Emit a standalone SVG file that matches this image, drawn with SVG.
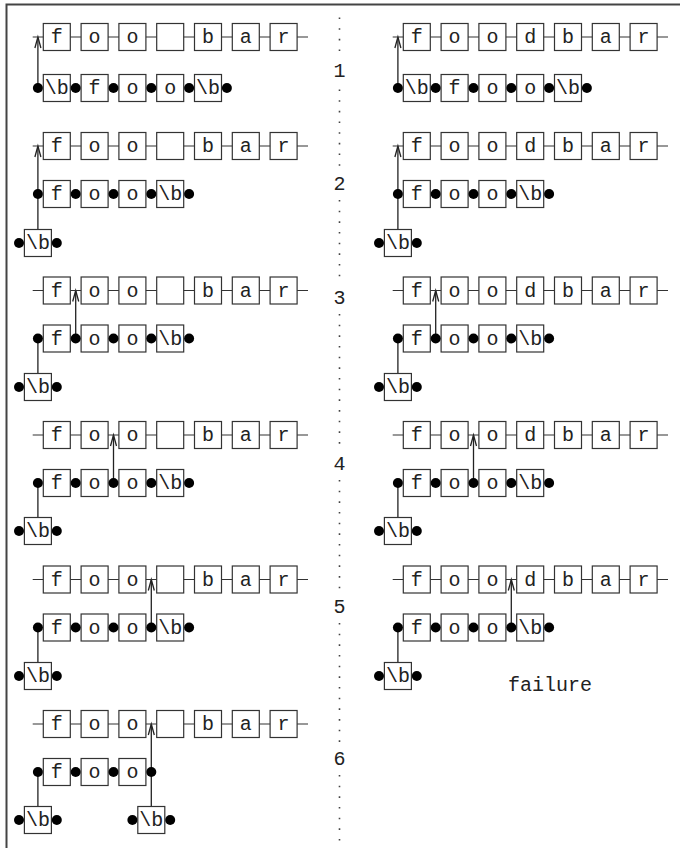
<svg xmlns="http://www.w3.org/2000/svg" width="680" height="848" viewBox="0 0 680 848">
<style>
.bx{fill:#fff;stroke:#333;stroke-width:1.2}
.ln{stroke:#333;stroke-width:1.2;fill:none}
.t{font-family:"Liberation Mono","DejaVu Sans Mono",monospace;font-size:20px;fill:#222;text-anchor:middle}
.lb{font-family:"Liberation Mono","DejaVu Sans Mono",monospace;font-size:20px;fill:#222;text-anchor:middle}
.dt{fill:#000}
.dl{stroke:#444;stroke-width:1.6;stroke-dasharray:1.6 9.07;fill:none}
.cn{stroke:#222;stroke-width:1.3;fill:none}
</style>
<defs>
<marker id="ah" viewBox="-12 -4 13 8" refX="0" refY="0" markerWidth="13" markerHeight="8" markerUnits="userSpaceOnUse" orient="auto" overflow="visible">
<path d="M-11,-3 L0,0 L-11,3" fill="none" stroke="#222" stroke-width="1.3"/>
</marker>
</defs>
<rect width="680" height="848" fill="#fff"/>
<path d="M6.5,848 V4.5 H680" fill="none" stroke="#444" stroke-width="2"/>
<g id="divider">
<line class="dl" x1="339.5" y1="17.5" x2="339.5" y2="58"/>
<line class="dl" x1="339.5" y1="89.5" x2="339.5" y2="170"/>
<line class="dl" x1="339.5" y1="200" x2="339.5" y2="284"/>
<line class="dl" x1="339.5" y1="314" x2="339.5" y2="450"/>
<line class="dl" x1="339.5" y1="480" x2="339.5" y2="593"/>
<line class="dl" x1="339.5" y1="623" x2="339.5" y2="745"/>
<line class="dl" x1="339.5" y1="775" x2="339.5" y2="846"/>
<text class="lb" x="339.5" y="77">1</text>
<text class="lb" x="339.5" y="190">2</text>
<text class="lb" x="339.5" y="304">3</text>
<text class="lb" x="339.5" y="470">4</text>
<text class="lb" x="339.5" y="613">5</text>
<text class="lb" x="339.5" y="765">6</text>
</g>

<g id="connectors">
<line class="cn" x1="37.9" y1="88" x2="37.9" y2="37" marker-end="url(#ah)"/>
<line class="cn" x1="397.9" y1="88" x2="397.9" y2="37" marker-end="url(#ah)"/>
<line class="cn" x1="37.9" y1="229.5" x2="37.9" y2="146" marker-end="url(#ah)"/>
<line class="cn" x1="397.9" y1="229.5" x2="397.9" y2="146" marker-end="url(#ah)"/>
<line class="cn" x1="37.9" y1="373.5" x2="37.9" y2="338.5"/>
<line class="cn" x1="75.7" y1="338.5" x2="75.7" y2="290.5" marker-end="url(#ah)"/>
<line class="cn" x1="397.9" y1="373.5" x2="397.9" y2="338.5"/>
<line class="cn" x1="435.7" y1="338.5" x2="435.7" y2="290.5" marker-end="url(#ah)"/>
<line class="cn" x1="37.9" y1="517.5" x2="37.9" y2="483"/>
<line class="cn" x1="113.5" y1="483" x2="113.5" y2="435" marker-end="url(#ah)"/>
<line class="cn" x1="397.9" y1="517.5" x2="397.9" y2="483"/>
<line class="cn" x1="473.5" y1="483" x2="473.5" y2="435" marker-end="url(#ah)"/>
<line class="cn" x1="37.9" y1="662.5" x2="37.9" y2="627.5"/>
<line class="cn" x1="151.3" y1="627.5" x2="151.3" y2="579.5" marker-end="url(#ah)"/>
<line class="cn" x1="397.9" y1="662.5" x2="397.9" y2="627.5"/>
<line class="cn" x1="511.3" y1="627.5" x2="511.3" y2="579.5" marker-end="url(#ah)"/>
<line class="cn" x1="37.9" y1="806.5" x2="37.9" y2="772"/>
<line class="cn" x1="151.3" y1="806.5" x2="151.3" y2="724" marker-end="url(#ah)"/>
</g>

<!-- Row 1 -->
<g id="r1-text-left" transform="translate(0,37)">
<line class="ln" x1="32.7" y1="0" x2="308" y2="0"/>
<rect class="bx" x="43.3" y="-13.5" width="27" height="27"/><text class="t" x="56.8" y="6">f</text>
<rect class="bx" x="81.1" y="-13.5" width="27" height="27"/><text class="t" x="94.6" y="6">o</text>
<rect class="bx" x="118.9" y="-13.5" width="27" height="27"/><text class="t" x="132.4" y="6">o</text>
<rect class="bx" x="156.7" y="-13.5" width="27" height="27"/>
<rect class="bx" x="194.5" y="-13.5" width="27" height="27"/><text class="t" x="208" y="6">b</text>
<rect class="bx" x="232.3" y="-13.5" width="27" height="27"/><text class="t" x="245.8" y="6">a</text>
<rect class="bx" x="270.1" y="-13.5" width="27" height="27"/><text class="t" x="283.6" y="6">r</text>
</g>
<g id="r1-pattern-left" transform="translate(0,88)">
<rect class="bx" x="43.3" y="-13.5" width="27" height="27"/><text class="t" x="56.8" y="6">\b</text>
<rect class="bx" x="81.1" y="-13.5" width="27" height="27"/><text class="t" x="94.6" y="6">f</text>
<rect class="bx" x="118.9" y="-13.5" width="27" height="27"/><text class="t" x="132.4" y="6">o</text>
<rect class="bx" x="156.7" y="-13.5" width="27" height="27"/><text class="t" x="170.2" y="6">o</text>
<rect class="bx" x="194.5" y="-13.5" width="27" height="27"/><text class="t" x="208" y="6">\b</text>
<circle class="dt" cx="37.9" cy="0" r="5"/><circle class="dt" cx="75.7" cy="0" r="5"/><circle class="dt" cx="113.5" cy="0" r="5"/><circle class="dt" cx="151.3" cy="0" r="5"/><circle class="dt" cx="189.1" cy="0" r="5"/><circle class="dt" cx="226.9" cy="0" r="5"/>
</g>
<g id="r1-text-right" transform="translate(360,37)">
<line class="ln" x1="32.7" y1="0" x2="308" y2="0"/>
<rect class="bx" x="43.3" y="-13.5" width="27" height="27"/><text class="t" x="56.8" y="6">f</text>
<rect class="bx" x="81.1" y="-13.5" width="27" height="27"/><text class="t" x="94.6" y="6">o</text>
<rect class="bx" x="118.9" y="-13.5" width="27" height="27"/><text class="t" x="132.4" y="6">o</text>
<rect class="bx" x="156.7" y="-13.5" width="27" height="27"/><text class="t" x="170.2" y="6">d</text>
<rect class="bx" x="194.5" y="-13.5" width="27" height="27"/><text class="t" x="208" y="6">b</text>
<rect class="bx" x="232.3" y="-13.5" width="27" height="27"/><text class="t" x="245.8" y="6">a</text>
<rect class="bx" x="270.1" y="-13.5" width="27" height="27"/><text class="t" x="283.6" y="6">r</text>
</g>
<g id="r1-pattern-right" transform="translate(360,88)">
<rect class="bx" x="43.3" y="-13.5" width="27" height="27"/><text class="t" x="56.8" y="6">\b</text>
<rect class="bx" x="81.1" y="-13.5" width="27" height="27"/><text class="t" x="94.6" y="6">f</text>
<rect class="bx" x="118.9" y="-13.5" width="27" height="27"/><text class="t" x="132.4" y="6">o</text>
<rect class="bx" x="156.7" y="-13.5" width="27" height="27"/><text class="t" x="170.2" y="6">o</text>
<rect class="bx" x="194.5" y="-13.5" width="27" height="27"/><text class="t" x="208" y="6">\b</text>
<circle class="dt" cx="37.9" cy="0" r="5"/><circle class="dt" cx="75.7" cy="0" r="5"/><circle class="dt" cx="113.5" cy="0" r="5"/><circle class="dt" cx="151.3" cy="0" r="5"/><circle class="dt" cx="189.1" cy="0" r="5"/><circle class="dt" cx="226.9" cy="0" r="5"/>
</g>

<!-- Rows 2-5 left -->
<g id="r2-text-left" transform="translate(0,146)">
<line class="ln" x1="32.7" y1="0" x2="308" y2="0"/>
<rect class="bx" x="43.3" y="-13.5" width="27" height="27"/><text class="t" x="56.8" y="6">f</text>
<rect class="bx" x="81.1" y="-13.5" width="27" height="27"/><text class="t" x="94.6" y="6">o</text>
<rect class="bx" x="118.9" y="-13.5" width="27" height="27"/><text class="t" x="132.4" y="6">o</text>
<rect class="bx" x="156.7" y="-13.5" width="27" height="27"/>
<rect class="bx" x="194.5" y="-13.5" width="27" height="27"/><text class="t" x="208" y="6">b</text>
<rect class="bx" x="232.3" y="-13.5" width="27" height="27"/><text class="t" x="245.8" y="6">a</text>
<rect class="bx" x="270.1" y="-13.5" width="27" height="27"/><text class="t" x="283.6" y="6">r</text>
</g>
<g id="r2-pattern-left" transform="translate(0,194)">
<rect class="bx" x="43.3" y="-13.5" width="27" height="27"/><text class="t" x="56.8" y="6">f</text>
<rect class="bx" x="81.1" y="-13.5" width="27" height="27"/><text class="t" x="94.6" y="6">o</text>
<rect class="bx" x="118.9" y="-13.5" width="27" height="27"/><text class="t" x="132.4" y="6">o</text>
<rect class="bx" x="156.7" y="-13.5" width="27" height="27"/><text class="t" x="170.2" y="6">\b</text>
<circle class="dt" cx="37.9" cy="0" r="5"/><circle class="dt" cx="75.7" cy="0" r="5"/><circle class="dt" cx="113.5" cy="0" r="5"/><circle class="dt" cx="151.3" cy="0" r="5"/><circle class="dt" cx="189.1" cy="0" r="5"/>
</g>
<g id="r2-b-left" transform="translate(0,243)">
<rect class="bx" x="24.4" y="-13.5" width="27" height="27"/><text class="t" x="37.9" y="6">\b</text>
<circle class="dt" cx="19" cy="0" r="5"/><circle class="dt" cx="56.8" cy="0" r="5"/>
</g>

<g id="r3-text-left" transform="translate(0,290.5)">
<line class="ln" x1="32.7" y1="0" x2="308" y2="0"/>
<rect class="bx" x="43.3" y="-13.5" width="27" height="27"/><text class="t" x="56.8" y="6">f</text>
<rect class="bx" x="81.1" y="-13.5" width="27" height="27"/><text class="t" x="94.6" y="6">o</text>
<rect class="bx" x="118.9" y="-13.5" width="27" height="27"/><text class="t" x="132.4" y="6">o</text>
<rect class="bx" x="156.7" y="-13.5" width="27" height="27"/>
<rect class="bx" x="194.5" y="-13.5" width="27" height="27"/><text class="t" x="208" y="6">b</text>
<rect class="bx" x="232.3" y="-13.5" width="27" height="27"/><text class="t" x="245.8" y="6">a</text>
<rect class="bx" x="270.1" y="-13.5" width="27" height="27"/><text class="t" x="283.6" y="6">r</text>
</g>
<g id="r3-pattern-left" transform="translate(0,338.5)">
<rect class="bx" x="43.3" y="-13.5" width="27" height="27"/><text class="t" x="56.8" y="6">f</text>
<rect class="bx" x="81.1" y="-13.5" width="27" height="27"/><text class="t" x="94.6" y="6">o</text>
<rect class="bx" x="118.9" y="-13.5" width="27" height="27"/><text class="t" x="132.4" y="6">o</text>
<rect class="bx" x="156.7" y="-13.5" width="27" height="27"/><text class="t" x="170.2" y="6">\b</text>
<circle class="dt" cx="37.9" cy="0" r="5"/><circle class="dt" cx="75.7" cy="0" r="5"/><circle class="dt" cx="113.5" cy="0" r="5"/><circle class="dt" cx="151.3" cy="0" r="5"/><circle class="dt" cx="189.1" cy="0" r="5"/>
</g>
<g id="r3-b-left" transform="translate(0,387)">
<rect class="bx" x="24.4" y="-13.5" width="27" height="27"/><text class="t" x="37.9" y="6">\b</text>
<circle class="dt" cx="19" cy="0" r="5"/><circle class="dt" cx="56.8" cy="0" r="5"/>
</g>

<g id="r4-text-left" transform="translate(0,435)">
<line class="ln" x1="32.7" y1="0" x2="308" y2="0"/>
<rect class="bx" x="43.3" y="-13.5" width="27" height="27"/><text class="t" x="56.8" y="6">f</text>
<rect class="bx" x="81.1" y="-13.5" width="27" height="27"/><text class="t" x="94.6" y="6">o</text>
<rect class="bx" x="118.9" y="-13.5" width="27" height="27"/><text class="t" x="132.4" y="6">o</text>
<rect class="bx" x="156.7" y="-13.5" width="27" height="27"/>
<rect class="bx" x="194.5" y="-13.5" width="27" height="27"/><text class="t" x="208" y="6">b</text>
<rect class="bx" x="232.3" y="-13.5" width="27" height="27"/><text class="t" x="245.8" y="6">a</text>
<rect class="bx" x="270.1" y="-13.5" width="27" height="27"/><text class="t" x="283.6" y="6">r</text>
</g>
<g id="r4-pattern-left" transform="translate(0,483)">
<rect class="bx" x="43.3" y="-13.5" width="27" height="27"/><text class="t" x="56.8" y="6">f</text>
<rect class="bx" x="81.1" y="-13.5" width="27" height="27"/><text class="t" x="94.6" y="6">o</text>
<rect class="bx" x="118.9" y="-13.5" width="27" height="27"/><text class="t" x="132.4" y="6">o</text>
<rect class="bx" x="156.7" y="-13.5" width="27" height="27"/><text class="t" x="170.2" y="6">\b</text>
<circle class="dt" cx="37.9" cy="0" r="5"/><circle class="dt" cx="75.7" cy="0" r="5"/><circle class="dt" cx="113.5" cy="0" r="5"/><circle class="dt" cx="151.3" cy="0" r="5"/><circle class="dt" cx="189.1" cy="0" r="5"/>
</g>
<g id="r4-b-left" transform="translate(0,531)">
<rect class="bx" x="24.4" y="-13.5" width="27" height="27"/><text class="t" x="37.9" y="6">\b</text>
<circle class="dt" cx="19" cy="0" r="5"/><circle class="dt" cx="56.8" cy="0" r="5"/>
</g>

<g id="r5-text-left" transform="translate(0,579.5)">
<line class="ln" x1="32.7" y1="0" x2="308" y2="0"/>
<rect class="bx" x="43.3" y="-13.5" width="27" height="27"/><text class="t" x="56.8" y="6">f</text>
<rect class="bx" x="81.1" y="-13.5" width="27" height="27"/><text class="t" x="94.6" y="6">o</text>
<rect class="bx" x="118.9" y="-13.5" width="27" height="27"/><text class="t" x="132.4" y="6">o</text>
<rect class="bx" x="156.7" y="-13.5" width="27" height="27"/>
<rect class="bx" x="194.5" y="-13.5" width="27" height="27"/><text class="t" x="208" y="6">b</text>
<rect class="bx" x="232.3" y="-13.5" width="27" height="27"/><text class="t" x="245.8" y="6">a</text>
<rect class="bx" x="270.1" y="-13.5" width="27" height="27"/><text class="t" x="283.6" y="6">r</text>
</g>
<g id="r5-pattern-left" transform="translate(0,627.5)">
<rect class="bx" x="43.3" y="-13.5" width="27" height="27"/><text class="t" x="56.8" y="6">f</text>
<rect class="bx" x="81.1" y="-13.5" width="27" height="27"/><text class="t" x="94.6" y="6">o</text>
<rect class="bx" x="118.9" y="-13.5" width="27" height="27"/><text class="t" x="132.4" y="6">o</text>
<rect class="bx" x="156.7" y="-13.5" width="27" height="27"/><text class="t" x="170.2" y="6">\b</text>
<circle class="dt" cx="37.9" cy="0" r="5"/><circle class="dt" cx="75.7" cy="0" r="5"/><circle class="dt" cx="113.5" cy="0" r="5"/><circle class="dt" cx="151.3" cy="0" r="5"/><circle class="dt" cx="189.1" cy="0" r="5"/>
</g>
<g id="r5-b-left" transform="translate(0,676)">
<rect class="bx" x="24.4" y="-13.5" width="27" height="27"/><text class="t" x="37.9" y="6">\b</text>
<circle class="dt" cx="19" cy="0" r="5"/><circle class="dt" cx="56.8" cy="0" r="5"/>
</g>

<!-- Row 6 left -->
<g id="r6-text-left" transform="translate(0,724)">
<line class="ln" x1="32.7" y1="0" x2="308" y2="0"/>
<rect class="bx" x="43.3" y="-13.5" width="27" height="27"/><text class="t" x="56.8" y="6">f</text>
<rect class="bx" x="81.1" y="-13.5" width="27" height="27"/><text class="t" x="94.6" y="6">o</text>
<rect class="bx" x="118.9" y="-13.5" width="27" height="27"/><text class="t" x="132.4" y="6">o</text>
<rect class="bx" x="156.7" y="-13.5" width="27" height="27"/>
<rect class="bx" x="194.5" y="-13.5" width="27" height="27"/><text class="t" x="208" y="6">b</text>
<rect class="bx" x="232.3" y="-13.5" width="27" height="27"/><text class="t" x="245.8" y="6">a</text>
<rect class="bx" x="270.1" y="-13.5" width="27" height="27"/><text class="t" x="283.6" y="6">r</text>
</g>
<g id="r6-pattern-left" transform="translate(0,772)">
<rect class="bx" x="43.3" y="-13.5" width="27" height="27"/><text class="t" x="56.8" y="6">f</text>
<rect class="bx" x="81.1" y="-13.5" width="27" height="27"/><text class="t" x="94.6" y="6">o</text>
<rect class="bx" x="118.9" y="-13.5" width="27" height="27"/><text class="t" x="132.4" y="6">o</text>
<circle class="dt" cx="37.9" cy="0" r="5"/><circle class="dt" cx="75.7" cy="0" r="5"/><circle class="dt" cx="113.5" cy="0" r="5"/><circle class="dt" cx="151.3" cy="0" r="5"/>
</g>
<g id="r6-b1-left" transform="translate(0,820)">
<rect class="bx" x="24.4" y="-13.5" width="27" height="27"/><text class="t" x="37.9" y="6">\b</text>
<circle class="dt" cx="19" cy="0" r="5"/><circle class="dt" cx="56.8" cy="0" r="5"/>
</g>
<g id="r6-b2-left" transform="translate(0,820)">
<rect class="bx" x="137.8" y="-13.5" width="27" height="27"/><text class="t" x="151.3" y="6">\b</text>
<circle class="dt" cx="132.4" cy="0" r="5"/><circle class="dt" cx="170.2" cy="0" r="5"/>
</g>

<!-- Rows 2-5 right -->
<g id="r2-text-right" transform="translate(360,146)">
<line class="ln" x1="32.7" y1="0" x2="308" y2="0"/>
<rect class="bx" x="43.3" y="-13.5" width="27" height="27"/><text class="t" x="56.8" y="6">f</text>
<rect class="bx" x="81.1" y="-13.5" width="27" height="27"/><text class="t" x="94.6" y="6">o</text>
<rect class="bx" x="118.9" y="-13.5" width="27" height="27"/><text class="t" x="132.4" y="6">o</text>
<rect class="bx" x="156.7" y="-13.5" width="27" height="27"/><text class="t" x="170.2" y="6">d</text>
<rect class="bx" x="194.5" y="-13.5" width="27" height="27"/><text class="t" x="208" y="6">b</text>
<rect class="bx" x="232.3" y="-13.5" width="27" height="27"/><text class="t" x="245.8" y="6">a</text>
<rect class="bx" x="270.1" y="-13.5" width="27" height="27"/><text class="t" x="283.6" y="6">r</text>
</g>
<g id="r2-pattern-right" transform="translate(360,194)">
<rect class="bx" x="43.3" y="-13.5" width="27" height="27"/><text class="t" x="56.8" y="6">f</text>
<rect class="bx" x="81.1" y="-13.5" width="27" height="27"/><text class="t" x="94.6" y="6">o</text>
<rect class="bx" x="118.9" y="-13.5" width="27" height="27"/><text class="t" x="132.4" y="6">o</text>
<rect class="bx" x="156.7" y="-13.5" width="27" height="27"/><text class="t" x="170.2" y="6">\b</text>
<circle class="dt" cx="37.9" cy="0" r="5"/><circle class="dt" cx="75.7" cy="0" r="5"/><circle class="dt" cx="113.5" cy="0" r="5"/><circle class="dt" cx="151.3" cy="0" r="5"/><circle class="dt" cx="189.1" cy="0" r="5"/>
</g>
<g id="r2-b-right" transform="translate(360,243)">
<rect class="bx" x="24.4" y="-13.5" width="27" height="27"/><text class="t" x="37.9" y="6">\b</text>
<circle class="dt" cx="19" cy="0" r="5"/><circle class="dt" cx="56.8" cy="0" r="5"/>
</g>

<g id="r3-text-right" transform="translate(360,290.5)">
<line class="ln" x1="32.7" y1="0" x2="308" y2="0"/>
<rect class="bx" x="43.3" y="-13.5" width="27" height="27"/><text class="t" x="56.8" y="6">f</text>
<rect class="bx" x="81.1" y="-13.5" width="27" height="27"/><text class="t" x="94.6" y="6">o</text>
<rect class="bx" x="118.9" y="-13.5" width="27" height="27"/><text class="t" x="132.4" y="6">o</text>
<rect class="bx" x="156.7" y="-13.5" width="27" height="27"/><text class="t" x="170.2" y="6">d</text>
<rect class="bx" x="194.5" y="-13.5" width="27" height="27"/><text class="t" x="208" y="6">b</text>
<rect class="bx" x="232.3" y="-13.5" width="27" height="27"/><text class="t" x="245.8" y="6">a</text>
<rect class="bx" x="270.1" y="-13.5" width="27" height="27"/><text class="t" x="283.6" y="6">r</text>
</g>
<g id="r3-pattern-right" transform="translate(360,338.5)">
<rect class="bx" x="43.3" y="-13.5" width="27" height="27"/><text class="t" x="56.8" y="6">f</text>
<rect class="bx" x="81.1" y="-13.5" width="27" height="27"/><text class="t" x="94.6" y="6">o</text>
<rect class="bx" x="118.9" y="-13.5" width="27" height="27"/><text class="t" x="132.4" y="6">o</text>
<rect class="bx" x="156.7" y="-13.5" width="27" height="27"/><text class="t" x="170.2" y="6">\b</text>
<circle class="dt" cx="37.9" cy="0" r="5"/><circle class="dt" cx="75.7" cy="0" r="5"/><circle class="dt" cx="113.5" cy="0" r="5"/><circle class="dt" cx="151.3" cy="0" r="5"/><circle class="dt" cx="189.1" cy="0" r="5"/>
</g>
<g id="r3-b-right" transform="translate(360,387)">
<rect class="bx" x="24.4" y="-13.5" width="27" height="27"/><text class="t" x="37.9" y="6">\b</text>
<circle class="dt" cx="19" cy="0" r="5"/><circle class="dt" cx="56.8" cy="0" r="5"/>
</g>

<g id="r4-text-right" transform="translate(360,435)">
<line class="ln" x1="32.7" y1="0" x2="308" y2="0"/>
<rect class="bx" x="43.3" y="-13.5" width="27" height="27"/><text class="t" x="56.8" y="6">f</text>
<rect class="bx" x="81.1" y="-13.5" width="27" height="27"/><text class="t" x="94.6" y="6">o</text>
<rect class="bx" x="118.9" y="-13.5" width="27" height="27"/><text class="t" x="132.4" y="6">o</text>
<rect class="bx" x="156.7" y="-13.5" width="27" height="27"/><text class="t" x="170.2" y="6">d</text>
<rect class="bx" x="194.5" y="-13.5" width="27" height="27"/><text class="t" x="208" y="6">b</text>
<rect class="bx" x="232.3" y="-13.5" width="27" height="27"/><text class="t" x="245.8" y="6">a</text>
<rect class="bx" x="270.1" y="-13.5" width="27" height="27"/><text class="t" x="283.6" y="6">r</text>
</g>
<g id="r4-pattern-right" transform="translate(360,483)">
<rect class="bx" x="43.3" y="-13.5" width="27" height="27"/><text class="t" x="56.8" y="6">f</text>
<rect class="bx" x="81.1" y="-13.5" width="27" height="27"/><text class="t" x="94.6" y="6">o</text>
<rect class="bx" x="118.9" y="-13.5" width="27" height="27"/><text class="t" x="132.4" y="6">o</text>
<rect class="bx" x="156.7" y="-13.5" width="27" height="27"/><text class="t" x="170.2" y="6">\b</text>
<circle class="dt" cx="37.9" cy="0" r="5"/><circle class="dt" cx="75.7" cy="0" r="5"/><circle class="dt" cx="113.5" cy="0" r="5"/><circle class="dt" cx="151.3" cy="0" r="5"/><circle class="dt" cx="189.1" cy="0" r="5"/>
</g>
<g id="r4-b-right" transform="translate(360,531)">
<rect class="bx" x="24.4" y="-13.5" width="27" height="27"/><text class="t" x="37.9" y="6">\b</text>
<circle class="dt" cx="19" cy="0" r="5"/><circle class="dt" cx="56.8" cy="0" r="5"/>
</g>

<g id="r5-text-right" transform="translate(360,579.5)">
<line class="ln" x1="32.7" y1="0" x2="308" y2="0"/>
<rect class="bx" x="43.3" y="-13.5" width="27" height="27"/><text class="t" x="56.8" y="6">f</text>
<rect class="bx" x="81.1" y="-13.5" width="27" height="27"/><text class="t" x="94.6" y="6">o</text>
<rect class="bx" x="118.9" y="-13.5" width="27" height="27"/><text class="t" x="132.4" y="6">o</text>
<rect class="bx" x="156.7" y="-13.5" width="27" height="27"/><text class="t" x="170.2" y="6">d</text>
<rect class="bx" x="194.5" y="-13.5" width="27" height="27"/><text class="t" x="208" y="6">b</text>
<rect class="bx" x="232.3" y="-13.5" width="27" height="27"/><text class="t" x="245.8" y="6">a</text>
<rect class="bx" x="270.1" y="-13.5" width="27" height="27"/><text class="t" x="283.6" y="6">r</text>
</g>
<g id="r5-pattern-right" transform="translate(360,627.5)">
<rect class="bx" x="43.3" y="-13.5" width="27" height="27"/><text class="t" x="56.8" y="6">f</text>
<rect class="bx" x="81.1" y="-13.5" width="27" height="27"/><text class="t" x="94.6" y="6">o</text>
<rect class="bx" x="118.9" y="-13.5" width="27" height="27"/><text class="t" x="132.4" y="6">o</text>
<rect class="bx" x="156.7" y="-13.5" width="27" height="27"/><text class="t" x="170.2" y="6">\b</text>
<circle class="dt" cx="37.9" cy="0" r="5"/><circle class="dt" cx="75.7" cy="0" r="5"/><circle class="dt" cx="113.5" cy="0" r="5"/><circle class="dt" cx="151.3" cy="0" r="5"/><circle class="dt" cx="189.1" cy="0" r="5"/>
</g>
<g id="r5-b-right" transform="translate(360,676)">
<rect class="bx" x="24.4" y="-13.5" width="27" height="27"/><text class="t" x="37.9" y="6">\b</text>
<circle class="dt" cx="19" cy="0" r="5"/><circle class="dt" cx="56.8" cy="0" r="5"/>
</g>

<g id="failure">
<text class="lb" x="550" y="691">failure</text>
</g>
</svg>
